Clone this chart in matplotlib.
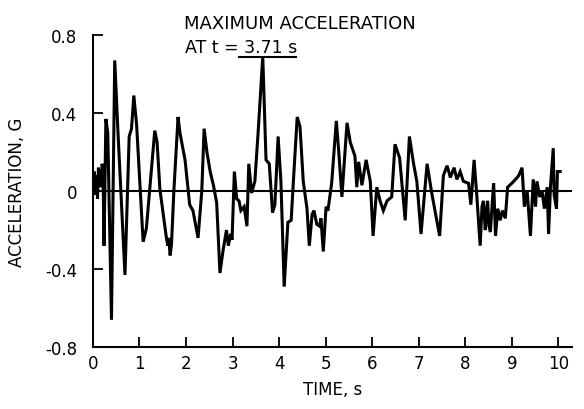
import matplotlib
matplotlib.use('Agg')
import matplotlib.pyplot as plt

# time (s) and acceleration (g)
time_s = [0.00, 0.03, 0.05, 0.08, 0.10, 0.12, 0.14, 0.16, 0.18, 0.20, 0.22, 0.24,
          0.28, 0.32, 0.40, 0.47, 0.54, 0.69, 0.78, 0.83, 0.88, 0.94, 1.08, 1.15,
          1.33, 1.38, 1.44, 1.58, 1.61, 1.63, 1.66, 1.69, 1.74, 1.83, 1.87, 1.98,
          2.08, 2.15, 2.26, 2.34, 2.39, 2.45, 2.52, 2.59, 2.66, 2.73, 2.80, 2.87,
          2.91, 2.96, 2.99, 3.04, 3.09, 3.14, 3.18, 3.25, 3.31, 3.35, 3.41, 3.48,
          3.55, 3.65, 3.72, 3.79, 3.86, 3.91, 3.98, 4.04, 4.11, 4.19, 4.26, 4.32,
          4.39, 4.45, 4.52, 4.60, 4.65, 4.71, 4.75, 4.81, 4.87, 4.90, 4.95, 5.01,
          5.05, 5.13, 5.23, 5.28, 5.35, 5.46, 5.53, 5.63, 5.67, 5.71, 5.78, 5.87,
          5.96, 6.02, 6.10, 6.17, 6.24, 6.32, 6.42, 6.49, 6.59, 6.71, 6.80, 6.89,
          6.96, 7.05, 7.18, 7.28, 7.45, 7.53, 7.61, 7.68, 7.76, 7.82, 7.89, 7.96,
          8.07, 8.12, 8.19, 8.25, 8.32, 8.36, 8.39, 8.43, 8.46, 8.48, 8.51, 8.54,
          8.58, 8.61, 8.65, 8.70, 8.75, 8.80, 8.86, 8.91, 9.00, 9.08, 9.15, 9.22,
          9.27, 9.33, 9.40, 9.46, 9.51, 9.54, 9.60, 9.65, 9.70, 9.76, 9.79, 9.83,
          9.89, 9.91, 9.96, 9.98, 10.04]
accel_g = [0.02, 0.10, -0.02, 0.08, -0.04, 0.12, 0.04, 0.11, 0.02, 0.14, 0.08, -0.28,
           0.37, 0.30, -0.66, 0.67, 0.30, -0.43, 0.28, 0.32, 0.49, 0.34, -0.26, -0.19,
           0.31, 0.25, 0.01, -0.24, -0.28, -0.24, -0.33, -0.27, 0.00, 0.38, 0.30, 0.16,
           -0.07, -0.10, -0.24, 0.00, 0.32, 0.20, 0.10, 0.03, -0.06, -0.42, -0.30, -0.20,
           -0.28, -0.22, -0.25, 0.10, -0.04, -0.05, -0.10, -0.08, -0.18, 0.14, -0.01, 0.05,
           0.30, 0.69, 0.16, 0.14, -0.11, -0.07, 0.28, 0.05, -0.49, -0.16, -0.15, 0.10,
           0.38, 0.33, 0.05, -0.09, -0.28, -0.12, -0.10, -0.17, -0.18, -0.14, -0.31, -0.08,
           -0.10, 0.04, 0.36, 0.21, -0.03, 0.35, 0.25, 0.18, 0.02, 0.15, 0.03, 0.16,
           0.05, -0.23, 0.02, -0.05, -0.10, -0.05, -0.03, 0.24, 0.17, -0.15, 0.28, 0.14,
           0.05, -0.22, 0.14, -0.01, -0.23, 0.08, 0.13, 0.07, 0.12, 0.06, 0.10, 0.05,
           0.04, -0.07, 0.16, -0.03, -0.28, -0.08, -0.05, -0.20, -0.10, -0.05, -0.18, -0.21,
           -0.06, 0.04, -0.23, -0.09, -0.15, -0.10, -0.14, 0.02, 0.04, 0.06, 0.08, 0.12,
           -0.08, 0.00, -0.23, 0.06, -0.08, 0.05, -0.03, 0.00, -0.09, 0.02, -0.22, 0.02,
           0.22, -0.02, -0.09, 0.10, 0.10]

x_ticks = list(range(0, 11))
y_ticks = [-0.8, -0.4, 0, 0.4, 0.8]
y_tick_labels = ['-0.8', '-0.4', '0', '0.4', '0.8']

fig = plt.figure(figsize=(5.84, 4.10), dpi=100)
ax = fig.add_axes([0.159, 0.151, 0.821, 0.761])

ax.plot(time_s, accel_g, color='black', linewidth=2.2, solid_joinstyle='miter')
ax.axhline(0, color='black', linewidth=1.5)

ax.set_xlim(0, 10.3)
ax.set_ylim(-0.8, 0.8)
ax.set_xticks(x_ticks)
ax.set_xticklabels([str(t) for t in x_ticks])
ax.set_yticks(y_ticks)
ax.set_yticklabels(y_tick_labels)
ax.tick_params(direction='in', length=7, width=1.3, labelsize=12)
ax.tick_params(axis='y', pad=11)
ax.tick_params(axis='x', pad=5)

for side in ['top', 'right']:
    ax.spines[side].set_visible(False)
for side in ['left', 'bottom']:
    ax.spines[side].set_linewidth(1.5)

ax.set_xlabel('TIME, s', fontsize=12, labelpad=6)
ax.set_ylabel('ACCELERATION, G', fontsize=12, labelpad=14)

# peak annotation
i_peak = accel_g.index(max(accel_g))
t_peak = time_s[i_peak]
a_peak = accel_g[i_peak]
ax.text(1.96, 0.86, 'MAXIMUM ACCELERATION', fontsize=13, va='center', ha='left',
        clip_on=False)
ax.text(1.98, 0.74, 'AT t = 3.71 s', fontsize=12.5, va='center', ha='left',
        clip_on=False)
ax.plot([t_peak - 0.5, t_peak + 0.72], [a_peak, a_peak], color='black',
        linewidth=1.5, clip_on=False)

plt.savefig('out.png', dpi=100)
